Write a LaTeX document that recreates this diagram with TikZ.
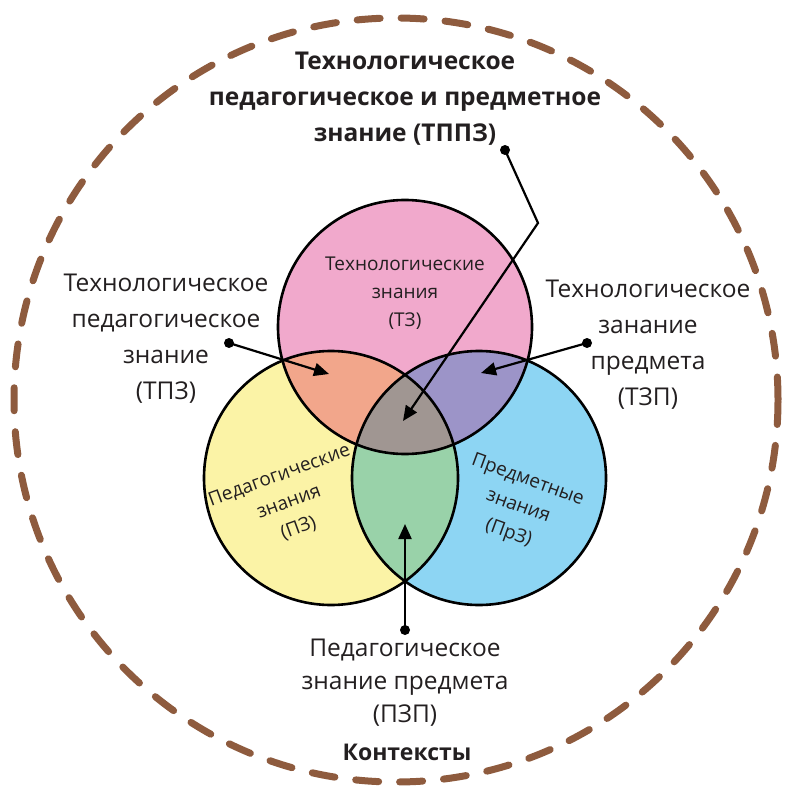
\documentclass[tikz,border=0pt]{standalone}
\usepackage{fontspec}
\setmainfont{Open Sans}
\usetikzlibrary{arrows.meta,positioning}
\definecolor{rimbrown}{HTML}{8E5B3E}
\definecolor{txtgray}{HTML}{231F20}
\definecolor{techpink}{HTML}{F1A9CC}
\definecolor{pedyellow}{HTML}{FBF3A6}
\definecolor{subjblue}{HTML}{8DD5F3}
\definecolor{tpsalmon}{HTML}{F2A68B}
\definecolor{tspurple}{HTML}{9C94C8}
\definecolor{psgreen}{HTML}{99D2A9}
\definecolor{tpsgray}{HTML}{A09692}

\begin{document}
\begin{tikzpicture}[x=1pt,y=-1pt,
    set/.style={draw=black,line width=2.6pt},
    lbl/.style={align=center,text=txtgray,inner sep=0pt,
      font=\fontsize{24.5}{36}\selectfont},
    inlbl/.style={align=center,text=txtgray,inner sep=0pt,
      font=\fontsize{19}{28}\selectfont},
    pin/.style={line width=2.2pt,-{Triangle[length=15pt,width=13pt]}},
    dot/.style={circle,fill=black,inner sep=0pt,minimum size=10pt}]
  \useasboundingbox (0,0) rectangle (790,791);

  % centres of the three sets
  \coordinate (cT) at (405,327);
  \coordinate (cP) at (331,478);
  \coordinate (cS) at (479,478);
  \def\rad{127pt}

  % context
  \draw[rimbrown,line width=7pt,line cap=round,dash pattern=on 23pt off 21pt]
    (396,400) circle[radius=382pt];

  % set fills
  \fill[techpink] (cT) circle[radius=\rad];
  \fill[pedyellow] (cP) circle[radius=\rad];
  \fill[subjblue] (cS) circle[radius=\rad];
  \begin{scope}
    \clip (cT) circle[radius=\rad];
    \fill[tpsalmon] (cP) circle[radius=\rad];
    \fill[tspurple] (cS) circle[radius=\rad];
  \end{scope}
  \begin{scope}
    \clip (cP) circle[radius=\rad];
    \fill[psgreen] (cS) circle[radius=\rad];
    \clip (cS) circle[radius=\rad];
    \fill[tpsgray] (cT) circle[radius=\rad];
  \end{scope}
  \draw[set] (cT) circle[radius=\rad];
  \draw[set] (cP) circle[radius=\rad];
  \draw[set] (cS) circle[radius=\rad];

  % set labels
  \node[inlbl] (TK) at (405,293) {Технологические\\знания\\(ТЗ)};
  \node[inlbl,rotate=20] (PK) at (289,502) {Педагогические\\знания\\(ПЗ)};
  \node[inlbl,rotate=-20] (SK) at (518,507) {Предметные\\знания\\(ПрЗ)};

  % outer labels
  \node[lbl,font=\bfseries\fontsize{24.5}{36}\selectfont] (TPSK) at (405,99)
    {Технологическое\\педагогическое и предметное\\знание (ТППЗ)};
  \node[lbl] (TPK) at (166,339)
    {Технологическое\\педагогическое\\знание\\(ТПЗ)};
  \node[lbl] (TSK) at (648,345)
    {Технологическое\\занание\\предмета\\(ТЗП)};
  \node[lbl,font=\fontsize{24.5}{33}\selectfont] (PSK) at (405,683)
    {Педагогическое\\знание предмета\\(ПЗП)};
  \node[lbl,font=\bfseries\fontsize{23}{30}\selectfont] (ctx) at (407,752) {Контексты};

  % pointers
  \node[dot] (dTPSK) at (505,150) {};
  \node[dot] (dTPK) at (229,343) {};
  \node[dot] (dTSK) at (587,343) {};
  \node[dot] (dPSK) at (405,630) {};
  \coordinate (kTPSK) at (538,223);
  \coordinate (tTPSK) at (403,421);
  \coordinate (tTPK) at (329,374);
  \coordinate (tTSK) at (481,373);
  \coordinate (tPSK) at (405,524);
  \draw[pin] (dTPSK.center) -- (kTPSK) -- (tTPSK);
  \draw[pin] (dTPK.center) -- (tTPK);
  \draw[pin] (dTSK.center) -- (tTSK);
  \draw[pin] (dPSK.center) -- (tPSK);
\end{tikzpicture}
\end{document}
